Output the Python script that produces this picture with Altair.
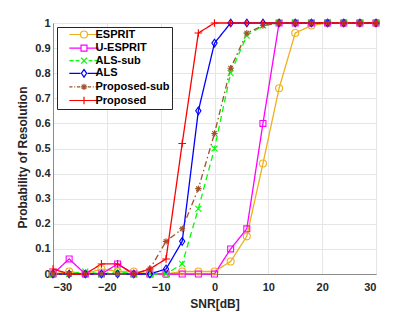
import altair as alt
import pandas as pd

# ---- data ----
snr = list(range(-30, 31, 3))
series = ["ESPRIT", "U-ESPRIT", "ALS-sub", "ALS", "Proposed-sub", "Proposed"]

esprit = [0, 0.01, 0, 0.02, 0.01, 0.01, 0, 0, 0.01, 0.01, 0.01,
          0.05, 0.15, 0.44, 0.74, 0.96, 0.99, 1, 1, 1, 1]
u_esprit = [0, 0.06, 0, 0, 0.04, 0, 0, 0, 0, 0, 0,
            0.10, 0.18, 0.60, 1, 1, 1, 1, 1, 1, 1]
als_sub = [0, 0, 0.01, 0, 0.01, 0, 0, 0, 0.04, 0.26, 0.50,
           0.80, 0.95, 0.99, 1, 1, 1, 1, 1, 1, 1]
als = [0, 0, 0, 0, 0, 0, 0, 0.02, 0.13, 0.65, 0.92,
       1, 1, 1, 1, 1, 1, 1, 1, 1, 1]
proposed_sub = [0, 0, 0, 0, 0, 0, 0.02, 0.13, 0.18, 0.34, 0.56,
                0.82, 0.96, 0.99, 1, 1, 1, 1, 1, 1, 1]
proposed = [0.02, 0, 0, 0.04, 0.04, 0, 0.02, 0.06, 0.52, 0.96, 1,
            1, 1, 1, 1, 1, 1, 1, 1, 1, 1]

values = [esprit, u_esprit, als_sub, als, proposed_sub, proposed]

# ---- styles ----
colors = ["#EDB120", "#FF00FF", "#00FF00", "#0000FF", "#A0522D", "#FF0000"]
dashes = [[1, 0], [1, 0], [6, 4], [1, 0], [6, 3, 1.5, 3], [1, 0]]
marker_w = [1.1, 1.1, 1.1, 1.1, 1.9, 1.1]

m_circle = "M-1,0A1,1 0 1,0 1,0A1,1 0 1,0 -1,0"
m_square = "M-0.85,-0.85L0.85,-0.85L0.85,0.85L-0.85,0.85Z"
m_x = "M-0.85,-0.85L0.85,0.85M-0.85,0.85L0.85,-0.85"
m_diamond = "M0,-1.1L0.75,0L0,1.1L-0.75,0Z"
m_star = "M-0.9,0L0.9,0M0,-0.9L0,0.9M-0.65,-0.65L0.65,0.65M-0.65,0.65L0.65,-0.65"
m_plus = "M-1.1,0L1.1,0M0,-1.1L0,1.1"
markers = [m_circle, m_square, m_x, m_diamond, m_star, m_plus]

solid = "M-4.2,0L-1,0M1,0L4.2,0"
dashed = "M-4.2,0L-3.0,0M-2.4,0L-1.3,0M1.3,0L2.4,0M3.0,0L4.2,0"
dashdot = ("M-4.2,0L-3.3,0M-2.8,0L-2.5,0M-2.0,0L-1.1,0"
           "M1.1,0L2.0,0M2.5,0L2.8,0M3.3,0L4.2,0")
legend_lines = [solid, solid, dashed, solid, dashdot, solid]
legend_paths = [m + l for m, l in zip(markers, legend_lines)]

rows = []
for name, vals in zip(series, values):
    for s, v in zip(snr, vals):
        rows.append({"series": name, "snr": s, "p": v})
df = pd.DataFrame(rows)

FONT = "Liberation Sans"

x_enc = alt.X(
    "snr:Q",
    scale=alt.Scale(domain=[-30, 30], nice=False, zero=False),
    axis=alt.Axis(values=[-30, -20, -10, 0, 10, 20, 30], title="SNR[dB]",
                  labelPadding=7, titleBaseline="middle", titleY=29),
)
y_enc = alt.Y(
    "p:Q",
    scale=alt.Scale(domain=[0, 1], nice=False),
    axis=alt.Axis(values=[round(i * 0.1, 1) for i in range(11)], format=".1~f",
                  title="Probability of Resolution", labelPadding=3,
                  titleX=-31, titleY=134, titleAngle=270,
                  titleAlign="center", titleBaseline="middle"),
)

color_scale = alt.Scale(domain=series, range=colors)

base = alt.Chart(df)

lines = base.mark_line(strokeWidth=1.3, clip=False).encode(
    x=x_enc, y=y_enc,
    color=alt.Color("series:N", scale=color_scale, legend=None),
    strokeDash=alt.StrokeDash("series:N", scale=alt.Scale(domain=series, range=dashes), legend=None),
)

points = base.mark_point(filled=False, size=49, opacity=1, clip=False).encode(
    x=x_enc, y=y_enc,
    color=alt.Color("series:N", scale=color_scale, legend=None),
    shape=alt.Shape("series:N", scale=alt.Scale(domain=series, range=markers), legend=None),
    strokeWidth=alt.StrokeWidth("series:N", scale=alt.Scale(domain=series, range=marker_w), legend=None),
)

legend_props = dict(
    title=None, orient="none", legendX=4, legendY=4,
    fillColor="white", strokeColor="#262626", padding=2,
    symbolSize=49, symbolOffset=19.5, labelOffset=6, rowPadding=0.6,
    symbolStrokeWidth=1.2, symbolOpacity=1,
    labelFont=FONT, labelFontWeight="bold", labelFontSize=11, labelColor="black",
)

legend_layer = base.mark_point(filled=False, size=49, opacity=0).encode(
    x=x_enc, y=y_enc,
    color=alt.Color("series:N", scale=color_scale, legend=alt.Legend(**legend_props)),
    shape=alt.Shape("series:N", scale=alt.Scale(domain=series, range=legend_paths),
                    legend=alt.Legend(**legend_props)),
)

chart = (
    alt.layer(lines, points, legend_layer)
    .resolve_scale(color="independent", shape="independent")
    .properties(
        width=323, height=251,
        autosize=alt.AutoSizeParams(type="none"),
        padding={"left": 45, "top": 15, "right": 20, "bottom": 38},
    )
    .configure_axis(
        labelFont=FONT, labelFontWeight="bold", labelFontSize=11, labelColor="#262626",
        titleFont=FONT, titleFontWeight="bold", titleFontSize=12, titleColor="#262626",
        gridColor="#e6e6e6", domainColor="#8c8c8c", ticks=False,
    )
    .configure_view(stroke="#8c8c8c")
)

chart.save("out.html", embed_options={"renderer": "svg", "actions": False})
